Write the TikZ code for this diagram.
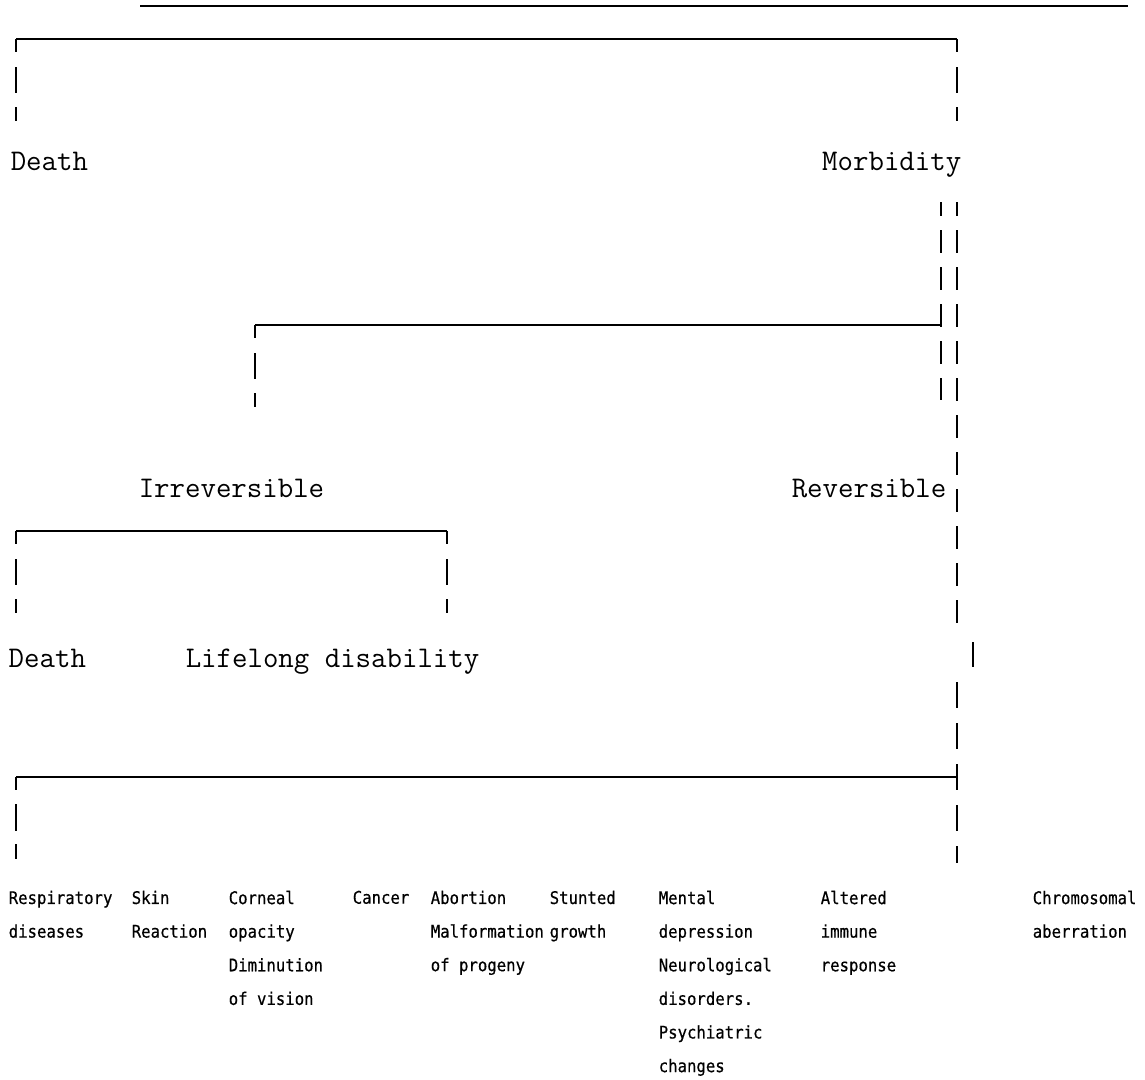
\documentclass[tikz,border=0pt]{standalone}
\usepackage{fontspec}
\newfontfamily\itemfont[FakeStretch=0.9,FakeBold=0.5]{DejaVu Sans Mono}

\begin{document}
\begin{tikzpicture}[x=1pt,y=-1pt,line width=1.5pt,
    lab/.style={font=\ttfamily\fontsize{30}{36}\selectfont,inner sep=0pt},
    cause/.style={font=\itemfont\fontsize{17.4}{33.6}\selectfont,inner sep=0pt,align=left,anchor=north west},
    drop/.style={line width=1.6pt,dash pattern=on 13pt off 15pt on 26pt off 14pt on 14pt off 400pt},
    longdash/.style={line width=1.6pt,dash pattern=on 23pt off 14pt,dash phase=9pt}]
  \useasboundingbox (0,0) rectangle (1145,1079);

  % labels
  \node[lab,anchor=base west] (death_a) at (10,170) {Death};
  \node[lab,anchor=base east] (morb) at (962,170) {Morbidity};
  \node[lab,anchor=base west] (irrev) at (138,497) {Irreversible};
  \node[lab,anchor=base east] (rev) at (947,497) {Reversible};
  \node[lab,anchor=base west] (death_b) at (8,667) {Death};
  \node[lab,anchor=base west] (lifelong) at (185,667) {Lifelong disability};

  % effects
  \node[cause] (resp) at (8,890) {Respiratory\\diseases};
  \node[cause] (skin) at (131,890) {Skin\\Reaction};
  \node[cause] (corneal) at (228,890) {Corneal\\opacity\\Diminution\\of vision};
  \node[cause] (cancer) at (352,890) {Cancer};
  \node[cause] (abort) at (430,890) {Abortion\\Malformation\\of progeny};
  \node[cause] (stunt) at (549,890) {Stunted\\growth};
  \node[cause] (mental) at (658,890) {Mental\\depression\\Neurological\\disorders.\\Psychiatric\\changes};
  \node[cause] (immune) at (820,890) {Altered\\immune\\response};
  \node[cause] (chrom) at (1032,890) {Chromosomal\\aberration};

  % brackets
  \coordinate (a_l) at (16,39);   \coordinate (a_r) at (957,39);
  \coordinate (b_l) at (255,325); \coordinate (b_r) at (941,325);
  \coordinate (d_l) at (16,531);  \coordinate (d_r) at (447,531);
  \coordinate (c_l) at (16,777);  \coordinate (c_r) at (957,777);
  \coordinate (m_l) at (941,202); \coordinate (m_r) at (957,202);

  \draw[line width=1.8pt] (140,6) -- (1128,6);
  \draw (a_l) -- (a_r);
  \draw (b_l) -- (b_r);
  \draw (d_l) -- (d_r);
  \draw (c_l) -- (c_r);

  \draw[drop] (a_l) -- (a_l |- death_a.north);
  \draw[drop] (a_r) -- (a_r |- morb.north);
  \draw[drop] (b_l) -- (b_l |- irrev.north);
  \draw[drop] (d_l) -- (d_l |- death_b.north);
  \draw[drop] (d_r) -- (d_r |- lifelong.north);
  \draw[drop,dash pattern=on 13pt off 14pt on 27pt off 13pt on 15pt off 400pt] (c_l) -- (c_l |- resp.north);

  % from morbidity downwards
  \draw[longdash] (m_l) -- (941,400);
  \draw[longdash] (m_r) -- (957,623);
  \draw[line width=1.6pt] (973,642) -- (973,667);
  \draw[line width=1.6pt,dash pattern=on 26pt off 15pt] (957,682) -- (957,863);
\end{tikzpicture}
\end{document}
